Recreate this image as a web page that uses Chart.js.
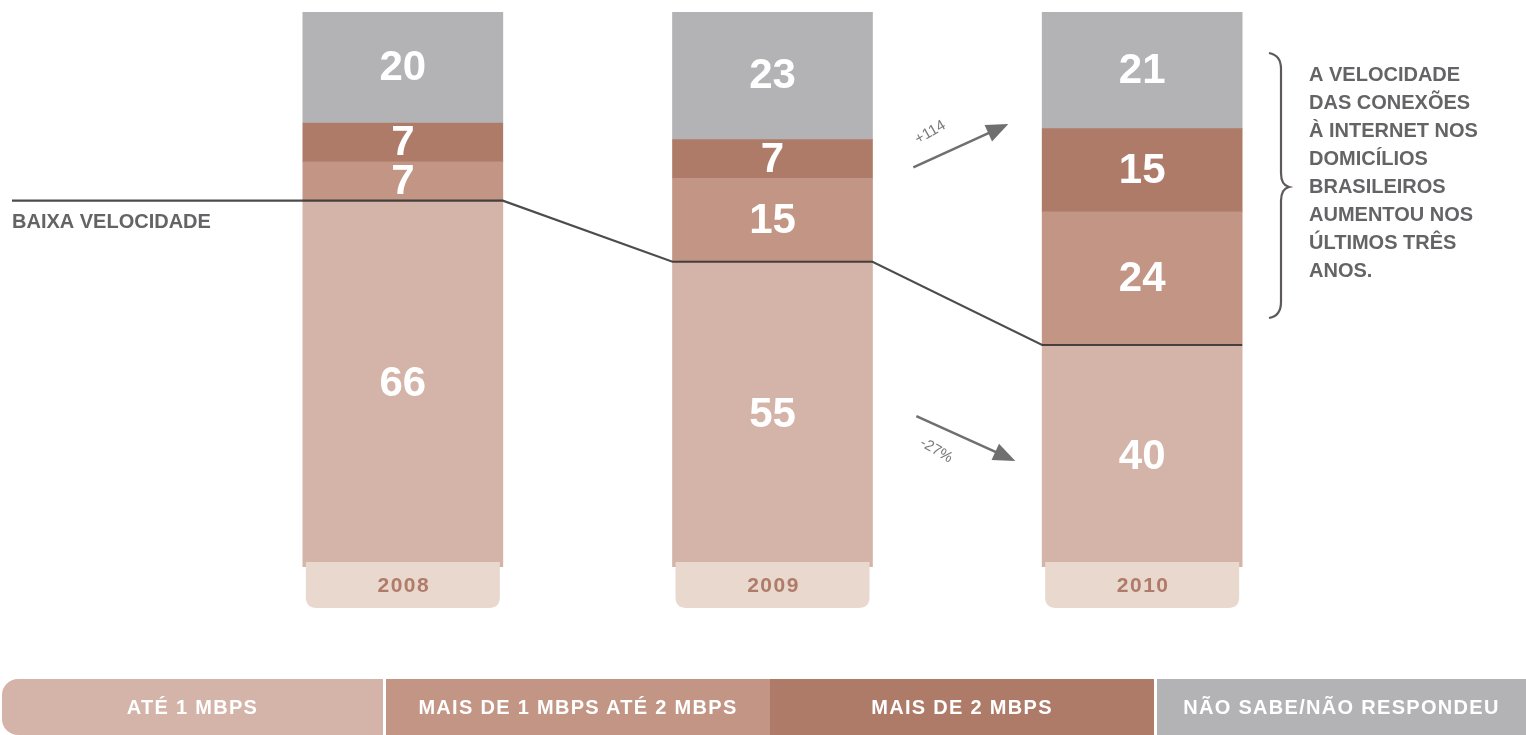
<!DOCTYPE html>
<html>
<head>
<meta charset="utf-8">
<script src="https://cdn.jsdelivr.net/npm/chart.js@4.4.1/dist/chart.umd.min.js"></script>
<style>
  html, body { margin: 0; padding: 0; background: #ffffff; }
  #wrap { position: relative; width: 1526px; height: 735px; overflow: hidden; }
  #c { position: absolute; left: 0; top: 0; }
  #legend { position: absolute; left: 0; top: 679px; width: 1526px; height: 56px; }
  .seg { position: absolute; top: 0; height: 56px; display: flex; align-items: center; justify-content: center;
         color: #ffffff; font-family: "Liberation Sans", Arial, sans-serif; font-weight: bold; font-size: 20px;
         letter-spacing: 1.3px; box-sizing: border-box; }
</style>
</head>
<body>
<div id="wrap">
  <canvas id="c" width="1526" height="735"></canvas>
  <div id="legend"></div>
</div>
<script>
// ---- Data ----
const years = ['2008', '2009', '2010'];
const ate1Mbps = [66, 55, 40];
const de1a2Mbps = [7, 15, 24];
const mais2Mbps = [7, 7, 15];
const naoSabe = [20, 23, 21];
const seriesNames = ['ATÉ 1 MBPS', 'MAIS DE 1 MBPS ATÉ 2 MBPS', 'MAIS DE 2 MBPS', 'NÃO SABE/NÃO RESPONDEU'];
const seriesColors = ['#D4B4A8', '#C29584', '#AF7B69', '#B3B3B6'];
const lineLabel = 'BAIXA VELOCIDADE';
const upLabel = '+114';
const downLabel = '-27%';
const noteLines = ['A VELOCIDADE', 'DAS CONEXÕES', 'À INTERNET NOS', 'DOMICÍLIOS', 'BRASILEIROS', 'AUMENTOU NOS', 'ÚLTIMOS TRÊS', 'ANOS.'];

const FONT = '"Liberation Sans", Arial, sans-serif';

// ---- Plugins ----
const decorPlugin = {
  id: 'decor',
  afterDatasetsDraw(chart) {
    const ctx = chart.ctx;
    const ca = chart.chartArea;
    const yS = chart.scales.y;
    const metas = chart.data.datasets.map((d, i) => chart.getDatasetMeta(i));

    // value labels
    ctx.save();
    ctx.fillStyle = '#ffffff';
    ctx.font = 'bold 42px ' + FONT;
    ctx.textAlign = 'center';
    ctx.textBaseline = 'middle';
    metas.forEach((m, di) => {
      m.data.forEach((el, i) => {
        const v = chart.data.datasets[di].data[i];
        ctx.fillText(String(v), el.x, (el.y + el.base) / 2 + 1);
      });
    });
    ctx.restore();

    // year boxes
    ctx.save();
    metas[0].data.forEach((el, i) => {
      const w = el.width - 6;
      const x0 = el.x - w / 2;
      const y0 = ca.bottom - 5;
      const h = 46;
      const r = 11;
      ctx.fillStyle = '#E8D8CE';
      ctx.beginPath();
      ctx.moveTo(x0, y0);
      ctx.lineTo(x0 + w, y0);
      ctx.lineTo(x0 + w, y0 + h - r);
      ctx.quadraticCurveTo(x0 + w, y0 + h, x0 + w - r, y0 + h);
      ctx.lineTo(x0 + r, y0 + h);
      ctx.quadraticCurveTo(x0, y0 + h, x0, y0 + h - r);
      ctx.closePath();
      ctx.fill();
      ctx.fillStyle = '#B07B69';
      ctx.font = 'bold 21px ' + FONT;
      if ('letterSpacing' in ctx) ctx.letterSpacing = '1.5px';
      ctx.textAlign = 'center';
      ctx.textBaseline = 'middle';
      ctx.fillText(chart.data.labels[i], el.x + 1, y0 + h / 2 + 1);
      if ('letterSpacing' in ctx) ctx.letterSpacing = '0px';
    });
    ctx.restore();

    // low-speed boundary line (top of first series)
    ctx.save();
    ctx.strokeStyle = 'rgba(45,45,45,0.85)';
    ctx.lineWidth = 2.2;
    ctx.beginPath();
    const els = metas[0].data;
    ctx.moveTo(12, els[0].y);
    els.forEach((el) => {
      ctx.lineTo(el.x - el.width / 2, el.y);
      ctx.lineTo(el.x + el.width / 2, el.y);
    });
    ctx.stroke();
    ctx.restore();

    ctx.save();
    ctx.fillStyle = '#646466';
    ctx.font = 'bold 20px ' + FONT;
    ctx.textAlign = 'left';
    ctx.textBaseline = 'middle';
    ctx.fillText(lineLabel, 12, els[0].y + 22);
    ctx.restore();

    // arrows between 2009 and 2010
    const b2 = els[1], b3 = els[2];
    const mid = ((b2.x + b2.width / 2) + (b3.x - b3.width / 2)) / 2;
    function arrow(x1, y1, x2, y2) {
      ctx.save();
      ctx.strokeStyle = '#6F6F70';
      ctx.fillStyle = '#6F6F70';
      ctx.lineWidth = 2.5;
      const a = Math.atan2(y2 - y1, x2 - x1);
      const hl = 22;
      const bx = x2 - hl * Math.cos(a), by = y2 - hl * Math.sin(a);
      ctx.beginPath();
      ctx.moveTo(x1, y1);
      ctx.lineTo(bx + 2 * Math.cos(a), by + 2 * Math.sin(a));
      ctx.stroke();
      ctx.beginPath();
      ctx.moveTo(x2, y2);
      ctx.lineTo(bx + 9 * Math.cos(a + Math.PI / 2), by + 9 * Math.sin(a + Math.PI / 2));
      ctx.lineTo(bx - 9 * Math.cos(a + Math.PI / 2), by - 9 * Math.sin(a + Math.PI / 2));
      ctx.closePath();
      ctx.fill();
      ctx.restore();
      return a;
    }
    const upA = arrow(mid - 44, yS.getPixelForValue(72), mid + 51, yS.getPixelForValue(79.8));
    const dnA = arrow(mid - 41, yS.getPixelForValue(27.2), mid + 58, yS.getPixelForValue(19.1));
    function rotText(t, x, y, a) {
      ctx.save();
      ctx.translate(x, y);
      ctx.rotate(a);
      ctx.fillStyle = '#7A7A7C';
      ctx.font = '15px ' + FONT;
      ctx.textAlign = 'center';
      ctx.textBaseline = 'middle';
      ctx.fillText(t, 0, 0);
      ctx.restore();
    }
    rotText(upLabel, mid - 27, yS.getPixelForValue(78.3), upA - 0.1);
    rotText(downLabel, mid - 21, yS.getPixelForValue(21.0), dnA + 0.1);

    // brace + note
    const bx = ca.right - 58;
    const top = 53, bot = 318, tip = 187;
    ctx.save();
    ctx.strokeStyle = '#5E5A5A';
    ctx.lineWidth = 2.2;
    ctx.beginPath();
    ctx.moveTo(bx, top);
    ctx.quadraticCurveTo(bx + 12, top + 2, bx + 12, top + 16);
    ctx.lineTo(bx + 12, tip - 14);
    ctx.quadraticCurveTo(bx + 12, tip - 2, bx + 20, tip);
    ctx.quadraticCurveTo(bx + 12, tip + 2, bx + 12, tip + 14);
    ctx.lineTo(bx + 12, bot - 16);
    ctx.quadraticCurveTo(bx + 12, bot - 2, bx, bot);
    ctx.stroke();
    ctx.fillStyle = '#646466';
    ctx.font = 'bold 20px ' + FONT;
    ctx.textAlign = 'left';
    ctx.textBaseline = 'middle';
    noteLines.forEach((t, i) => ctx.fillText(t, bx + 40, 75 + i * 28));
    ctx.restore();
  }
};

const chart = new Chart(document.getElementById('c'), {
  type: 'bar',
  data: {
    labels: years,
    datasets: [
      { label: seriesNames[0], data: ate1Mbps, backgroundColor: seriesColors[0] },
      { label: seriesNames[1], data: de1a2Mbps, backgroundColor: seriesColors[1] },
      { label: seriesNames[2], data: mais2Mbps, backgroundColor: seriesColors[2] },
      { label: seriesNames[3], data: naoSabe, backgroundColor: seriesColors[3] }
    ]
  },
  options: {
    responsive: false,
    animation: false,
    layout: { padding: { left: 218, right: 199, top: 12, bottom: 168 } },
    datasets: { bar: { barThickness: 200, borderWidth: 0 } },
    scales: {
      x: { stacked: true, display: false },
      y: { stacked: true, display: false, min: 0, max: 100 }
    },
    plugins: { legend: { display: false }, tooltip: { enabled: false } }
  },
  plugins: [decorPlugin]
});

// ---- HTML legend ----
const legendBoxes = [
  { left: 2, width: 381, radius: '16px 0 0 16px' },
  { left: 386, width: 384, radius: '0' },
  { left: 770, width: 384, radius: '0' },
  { left: 1157, width: 369, radius: '0' }
];
const lg = document.getElementById('legend');
seriesNames.forEach((n, i) => {
  const d = document.createElement('div');
  d.className = 'seg';
  d.style.left = legendBoxes[i].left + 'px';
  d.style.width = legendBoxes[i].width + 'px';
  d.style.borderRadius = legendBoxes[i].radius;
  d.style.background = seriesColors[i];
  d.textContent = n;
  lg.appendChild(d);
});
</script>
</body>
</html>
